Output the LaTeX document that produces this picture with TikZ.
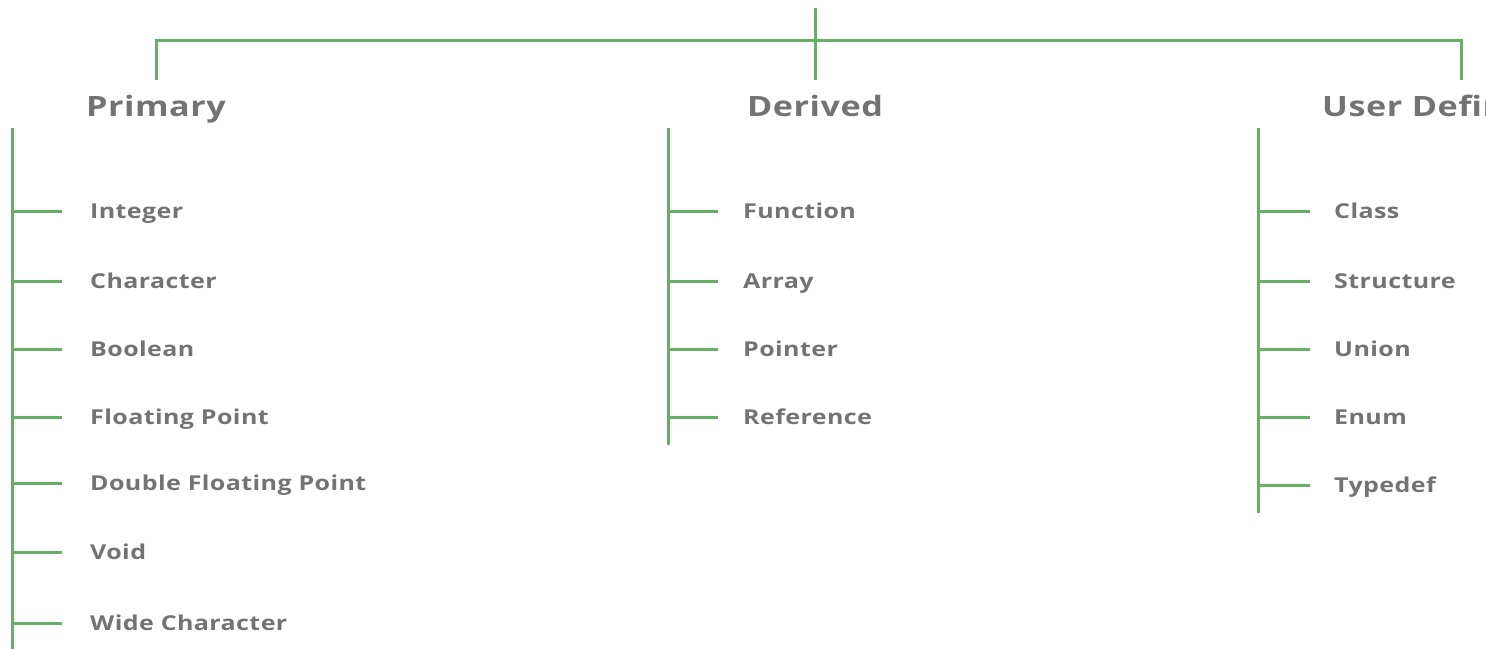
\documentclass[tikz,border=0pt]{standalone}
\usepackage{fontspec}
\setmainfont{Open Sans}
\newfontfamily\headfont[FakeStretch=1.22,LetterSpace=2]{Open Sans Bold}
\newfontfamily\itemfont[FakeStretch=1.22,LetterSpace=2]{Open Sans Bold}
\definecolor{treegreen}{RGB}{102,176,102}
\definecolor{textgrey}{RGB}{115,115,115}
\tikzset{
  branch/.style={draw=treegreen, line width=3pt},
  headnode/.style={font=\headfont\fontsize{28}{30}\selectfont, text=textgrey, inner sep=0pt, anchor=base},
  itemnode/.style={font=\itemfont\fontsize{20.5}{22}\selectfont, text=textgrey, inner sep=0pt, anchor=base west},
}
\begin{document}
\begin{tikzpicture}[x=1pt,y=-1pt]
\useasboundingbox (0,0) rectangle (1486,648);
\clip (0,0) rectangle (1486,648);
% top bracket
\coordinate (root) at (815,8);
\coordinate (rootj) at (815,40);
\coordinate (lj) at (156,40);
\coordinate (rj) at (1461,40);
\node[headnode] (primary) at (156,116) {Primary};
\node[headnode] (derived) at (815,116) {Derived};
\node[headnode, anchor=base west] (userdef) at (1322,116) {User Defined};
\draw[branch] (root) -- (815,80);
\draw[branch] (156,80) -- (lj) -- (rj) -- (1461,80);
% Primary column
\coordinate (ptop) at (12,128);
\coordinate (pbot) at (12,650);
\draw[branch] (ptop) -- (pbot);
\foreach \n/\t/\y in {p1/Integer/211, p2/Character/281, p3/Boolean/349, p4/Floating Point/417, p5/Double Floating Point/483, p6/Void/552, p7/Wide Character/623}{
  \node[itemnode] (\n) at (90,\y+7) {\t};
  \draw[branch] (ptop |- 0,\y) -- (62,\y);
}
% Derived column
\coordinate (dtop) at (668,128);
\coordinate (dbot) at (668,445);
\draw[branch] (dtop) -- (dbot);
\foreach \n/\t/\y in {d1/Function/211, d2/Array/281, d3/Pointer/349, d4/Reference/417}{
  \node[itemnode] (\n) at (743,\y+7) {\t};
  \draw[branch] (dtop |- 0,\y) -- (718,\y);
}
% User defined column
\coordinate (utop) at (1258,128);
\coordinate (ubot) at (1258,513);
\draw[branch] (utop) -- (ubot);
\foreach \n/\t/\y in {u1/Class/211, u2/Structure/281, u3/Union/349, u4/Enum/417, u5/Typedef/485}{
  \node[itemnode] (\n) at (1334,\y+7) {\t};
  \draw[branch] (utop |- 0,\y) -- (1310,\y);
}
\end{tikzpicture}
\end{document}
